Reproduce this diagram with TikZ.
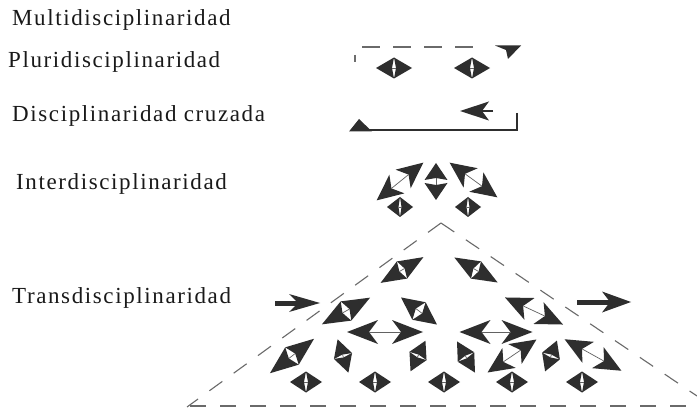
\documentclass[tikz,border=0pt]{standalone}
\usepackage{fontspec}
\newfontfamily\lblfont[LetterSpace=7]{Liberation Serif}
\definecolor{ink}{HTML}{2E2E2E}
\definecolor{dashgray}{HTML}{6A6A6A}
\newcommand{\DArrow}[7]{%
  \begin{scope}[shift={(#1,#2)},rotate=#3]
    \fill[ink] ({#4/2},0) -- ({#4/2-#5},#6) -- ({#4/2-#5+#7},0) -- ({#4/2-#5},-#6) -- cycle;
    \fill[ink] ({-#4/2},0) -- ({-#4/2+#5},#6) -- ({-#4/2+#5-#7},0) -- ({-#4/2+#5},-#6) -- cycle;
    \draw[ink!75,line width=0.7pt] ({-#4/2+#5-#7},0) -- ({#4/2-#5+#7},0);
  \end{scope}}
\tikzset{
  lbl/.style={font=\lblfont\fontsize{23}{27}\selectfont, anchor=base west, inner sep=0pt, text=black!90},
  dashline/.style={draw=dashgray, line width=1.1pt, dash pattern=on 16pt off 14pt},
}
\begin{document}
\begin{tikzpicture}[x=1pt,y=-1pt]
\useasboundingbox (0,0) rectangle (697,409);
\fill[white] (0,0) rectangle (697,409);

% labels
\node[lbl] (multi) at (12,26) {Multidisciplinaridad};
\node[lbl] (pluri) at (8,68) {Pluridisciplinaridad};
\node[lbl] (cruz) at (12,122) {Disciplinaridad cruzada};
\node[lbl] (inter) at (16,190) {Interdisciplinaridad};
\node[lbl] (trans) at (12,303) {Transdisciplinaridad};

% Pluridisciplinaridad
\coordinate (pl1) at (362,47);
\coordinate (pl2) at (482,47);
\draw[dashgray, line width=1.6pt, dash pattern=on 18pt off 13pt] (pl1) -- (pl2);
\fill[ink] (495,45.5) -- (521,45.5) -- (508,59) -- (506,50) -- cycle;
\draw[ink!70, line width=1.2pt] (355,55) -- (355,62);
\DArrow{394}{68}{0}{36}{18}{10.5}{2}
\DArrow{472}{68}{0}{36}{18}{10.5}{2}

% Disciplinaridad cruzada
\coordinate (c1) at (493,111);
\coordinate (c2) at (480,111);
\draw[ink, line width=2pt] (c1) -- (c2);
\fill[ink] (460,111) -- (489,101.5) -- (482,111) -- (489,120.5) -- cycle;
\coordinate (b1) at (517,113);
\coordinate (b2) at (517,130);
\coordinate (b3) at (364,130);
\draw[ink, line width=1.5pt] (b1) -- (b2) -- (b3);
\fill[ink] (349,131.5) -- (359,119) -- (372,131.5) -- cycle;

% Interdisciplinaridad
\DArrow{400}{181.5}{39}{60}{26}{12}{7}
\DArrow{436}{181.5}{90}{37}{17}{11.5}{2}
\DArrow{473.5}{180}{-36}{59}{26}{12}{7}
\DArrow{400}{207}{0}{26}{13}{10}{1.5}
\DArrow{468}{207}{0}{26}{13}{10}{1.5}

% Transdisciplinaridad: dashed triangle
\coordinate (apex) at (441,223);
\coordinate (tl) at (187,407);
\coordinate (tr) at (697,396);
\coordinate (br) at (692,406);
\draw[dashline] (apex) -- (tl);
\draw[dashline] (apex) -- (tr);
\draw[dashline] (190,406) -- (br);

% single arrows
\draw[ink, line width=5pt] (275,303) -- (300,303);
\fill[ink] (320,303) -- (289,294) -- (298,303) -- (289,312) -- cycle;
\draw[ink, line width=5pt] (577,302) -- (612,302);
\fill[ink] (631,302) -- (602,291.5) -- (610,302) -- (602,312.5) -- cycle;

% arrows inside the triangle
\DArrow{402}{270}{31}{50}{25}{10}{3}
\DArrow{476}{270}{-30}{50}{25}{10}{3}
\DArrow{346}{311}{29}{55}{27.5}{11}{4}
\DArrow{419}{311}{-37}{45}{22.5}{11}{4}
\DArrow{534}{311}{-25}{64}{27}{12}{7}
\DArrow{385}{332}{0}{76}{31}{12}{9}
\DArrow{496}{332}{0}{73}{31}{12}{9}
\DArrow{292}{356}{38}{56}{28}{11}{4}
\DArrow{343}{356}{108}{35}{17.5}{9.5}{1.5}
\DArrow{418}{356}{64}{34}{17}{9.5}{1.5}
\DArrow{466}{357}{120}{36}{18}{9.5}{1.5}
\DArrow{512}{356}{34}{59}{26}{12}{7}
\DArrow{551}{356}{69}{33}{16.5}{9.5}{1.5}
\DArrow{593}{355}{-29}{65}{27}{12}{7}

% bottom row diamonds
\DArrow{306}{382}{0}{32}{16}{10.5}{2}
\DArrow{375}{382}{0}{32}{16}{10.5}{2}
\DArrow{444}{382}{0}{32}{16}{10.5}{2}
\DArrow{512}{382}{0}{32}{16}{10.5}{2}
\DArrow{582}{382}{0}{32}{16}{10.5}{2}
\end{tikzpicture}
\end{document}
